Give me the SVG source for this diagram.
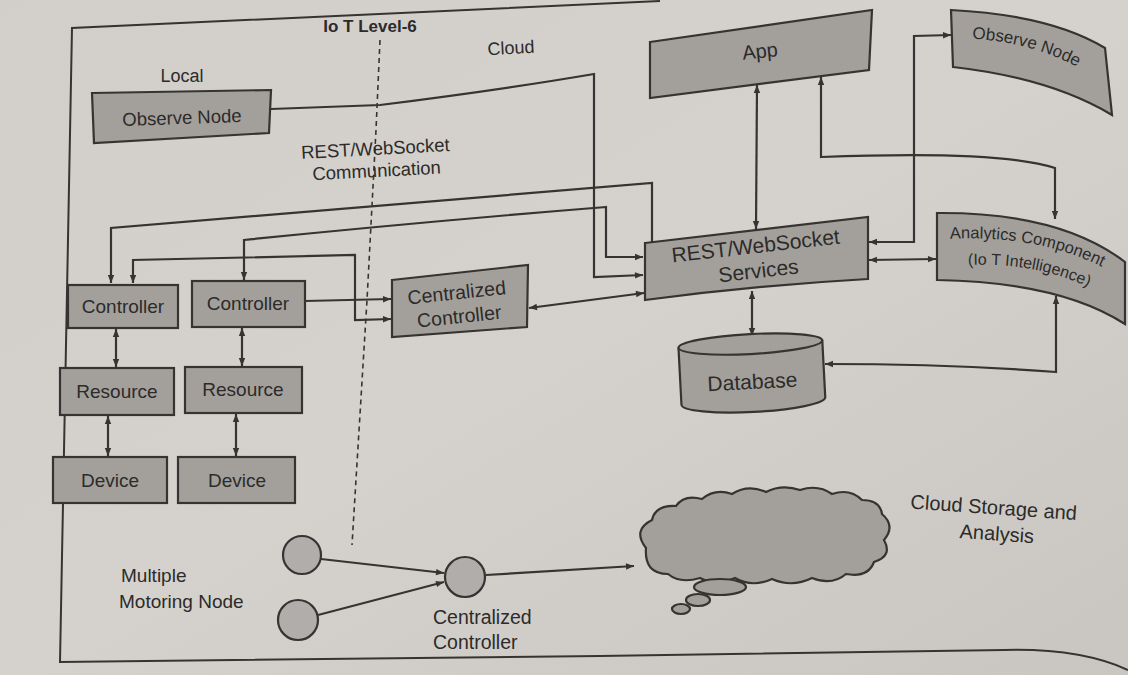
<svg xmlns="http://www.w3.org/2000/svg" width="1128" height="675" viewBox="0 0 1128 675">
<defs>
<linearGradient id="paper" x1="0" y1="0" x2="1" y2="1">
<stop offset="0" stop-color="#d2cfcb"/>
<stop offset="0.5" stop-color="#d5d2ce"/>
<stop offset="1" stop-color="#c9c6c2"/>
</linearGradient>
<marker id="ah" viewBox="0 0 10 10" refX="10" refY="5" markerWidth="11" markerHeight="8" orient="auto-start-reverse" markerUnits="userSpaceOnUse">
<path d="M0,1 L10,5 L0,9 z" fill="#353432"/>
</marker>
<path id="ap1" d="M944,239 Q1050,233 1122,278"/>
<path id="ap2" d="M966,265 Q1058,261 1120,306"/>
<path id="op1" d="M964,38 Q1048,42 1104,84"/>
<style>
.box{fill:#a3a09c;stroke:#353432;stroke-width:2.2}
.circ{fill:#b0adaa;stroke:#353432;stroke-width:2.2}
.t{font-family:"Liberation Sans",Arial,sans-serif;fill:#2c2b29;text-anchor:middle}
.lbl{font-family:"Liberation Sans",Arial,sans-serif;fill:#2c2b29}
.c{fill:none;stroke:#353432;stroke-width:2.2}
.a{marker-end:url(#ah)}
.aa{marker-end:url(#ah);marker-start:url(#ah)}
</style>
</defs>
<rect width="1128" height="675" fill="url(#paper)"/>
<!-- frame -->
<path d="M660,1 L72,28 L60,662 L600,656 L1004,650 Q1080,648 1128,670" fill="none" stroke="#353432" stroke-width="2"/>
<path d="M380,40 L376,130 L367,300 L352,545" fill="none" stroke="#353432" stroke-width="1.6" stroke-dasharray="5 4"/>
<!-- free labels -->
<text class="t" x="370" y="32" font-size="17" font-weight="bold">Io T Level-6</text>
<text class="t" x="182" y="82" font-size="18">Local</text>
<text class="t" x="511" y="54" font-size="18" transform="rotate(-3 511 48)">Cloud</text>
<g transform="rotate(-3 375 160)">
<text class="t" x="376" y="155" font-size="18.5">REST/WebSocket</text>
<text class="t" x="376" y="177" font-size="18.5">Communication</text>
</g>
<text class="lbl" x="121" y="582" font-size="19">Multiple</text>
<text class="lbl" x="119" y="608" font-size="19">Motoring Node</text>
<text class="lbl" x="433" y="624" font-size="19.5">Centralized</text>
<text class="lbl" x="433" y="649" font-size="19.5">Controller</text>
<g transform="rotate(4 990 518)">
<text class="t" x="993" y="514" font-size="20">Cloud Storage and</text>
<text class="t" x="998" y="540" font-size="20">Analysis</text>
</g>
<!-- connectors -->
<g id="connectors">
<path class="c a" d="M271,109 L380,105 Q500,90 594,74 L594,277 L643,275"/>
<path class="c a" d="M652,242 L652,183 Q380,205 111,228 L111,283"/>
<path class="c aa" d="M643,257 L606,257 L606,207 Q420,222 244,240 L244,280"/>
<path class="c aa" d="M133,283 L133,260 L355,255 L355,320 L391,319"/>
<path class="c a" d="M305,301 L391,299"/>
<path class="c aa" d="M529,308 L644,293"/>
<path class="c aa" d="M116,329 L116,367"/>
<path class="c aa" d="M242,328 L242,366"/>
<path class="c aa" d="M108,416 L108,456"/>
<path class="c aa" d="M236,414 L236,456"/>
<path class="c aa" d="M757,85 L756,229"/>
<path class="c aa" d="M821,77 L821,157 Q1000,150 1055,168 L1055,219"/>
<path class="c aa" d="M869,242 L914,242 L914,36 L951,35"/>
<path class="c aa" d="M869,260 L936,259"/>
<path class="c aa" d="M752,291 L752,336"/>
<path class="c aa" d="M1056,296 L1056,372 Q950,364 825,364"/>
<path class="c a" d="M321,559 L444,573"/>
<path class="c a" d="M318,615 L444,582"/>
<path class="c a" d="M486,575 L634,566"/>
</g>
<!-- nodes -->
<g id="observe-local">
<polygon class="box" points="92,93 271,90 269,133 94,143"/>
<text class="t" x="182" y="124" font-size="18.5" transform="rotate(-2 182 118)">Observe Node</text>
</g>
<g id="controller1">
<rect class="box" x="68" y="285" width="110" height="43"/>
<text class="t" x="123" y="313" font-size="19">Controller</text>
</g>
<g id="controller2">
<rect class="box" x="192" y="281" width="113" height="46"/>
<text class="t" x="248" y="310" font-size="19">Controller</text>
</g>
<g id="resource1">
<rect class="box" x="60" y="368" width="114" height="47"/>
<text class="t" x="117" y="398" font-size="19">Resource</text>
</g>
<g id="resource2">
<rect class="box" x="185" y="367" width="117" height="46"/>
<text class="t" x="243" y="396" font-size="19">Resource</text>
</g>
<g id="device1">
<rect class="box" x="53" y="457" width="114" height="46"/>
<text class="t" x="110" y="487" font-size="19">Device</text>
</g>
<g id="device2">
<rect class="box" x="178" y="457" width="117" height="46"/>
<text class="t" x="237" y="487" font-size="19">Device</text>
</g>
<g id="central-controller">
<polygon class="box" points="392,280 528,265 527,327 392,337"/>
<g transform="rotate(-6 460 305)">
<text class="t" x="458" y="299" font-size="19.5">Centralized</text>
<text class="t" x="458" y="323" font-size="19.5">Controller</text>
</g>
</g>
<g id="app">
<polygon class="box" points="650,42 872,10 869,70 650,98"/>
<text class="t" x="760" y="58" font-size="20" transform="rotate(-6 760 52)">App</text>
</g>
<g id="rest-services">
<path class="box" d="M645,243 L868,217 L868,279 Q760,285 645,300 Z"/>
<g transform="rotate(-6.5 757 258)">
<text class="t" x="757" y="253" font-size="21">REST/WebSocket</text>
<text class="t" x="757" y="278" font-size="21">Services</text>
</g>
</g>
<g id="observe-cloud">
<path class="box" d="M951,10 Q1050,15 1105,48 L1112,115 Q1050,78 953,67 Z"/>
<text class="lbl" font-size="17"><textPath href="#op1" startOffset="8">Observe Node</textPath></text>
</g>
<g id="analytics">
<path class="box" d="M937,213 Q1060,212 1125,262 L1125,324 Q1060,282 937,280 Z"/>
<text class="lbl" font-size="16.5"><textPath href="#ap1" startOffset="6">Analytics Component</textPath></text>
<text class="lbl" font-size="16"><textPath href="#ap2" startOffset="2">(Io T Intelligence)</textPath></text>
</g>
<g id="database" transform="rotate(-3 752 375)">
<path class="box" d="M680,344 L680,401 A72,11 0 0 0 824,401 L824,344"/>
<ellipse class="box" cx="752" cy="344" rx="72" ry="10"/>
<text class="t" x="752" y="389" font-size="21">Database</text>
</g>
<g id="monitor-node-1"><circle class="circ" cx="302" cy="555" r="19"/></g>
<g id="monitor-node-2"><circle class="circ" cx="298" cy="620" r="20"/></g>
<g id="central-controller-2"><circle class="circ" cx="465" cy="577" r="20"/></g>
<g id="cloud-storage">
<path class="box" d="M646,548 Q632,530 652,520 Q655,505 676,506 Q684,494 702,499 Q715,488 732,494 Q748,484 766,492 Q782,484 800,490 Q818,484 832,494 Q850,488 862,500 Q880,500 882,514 Q896,526 884,540 Q893,556 874,562 Q868,578 846,574 Q832,586 812,578 Q792,588 772,579 Q752,588 735,578 Q716,586 700,578 Q680,584 668,574 Q644,574 646,548 Z"/>
<ellipse class="box" cx="720" cy="587" rx="26" ry="8"/>
<ellipse class="box" cx="698" cy="600" rx="12" ry="6"/>
<ellipse class="box" cx="681" cy="609" rx="9" ry="5"/>
</g>
</svg>
